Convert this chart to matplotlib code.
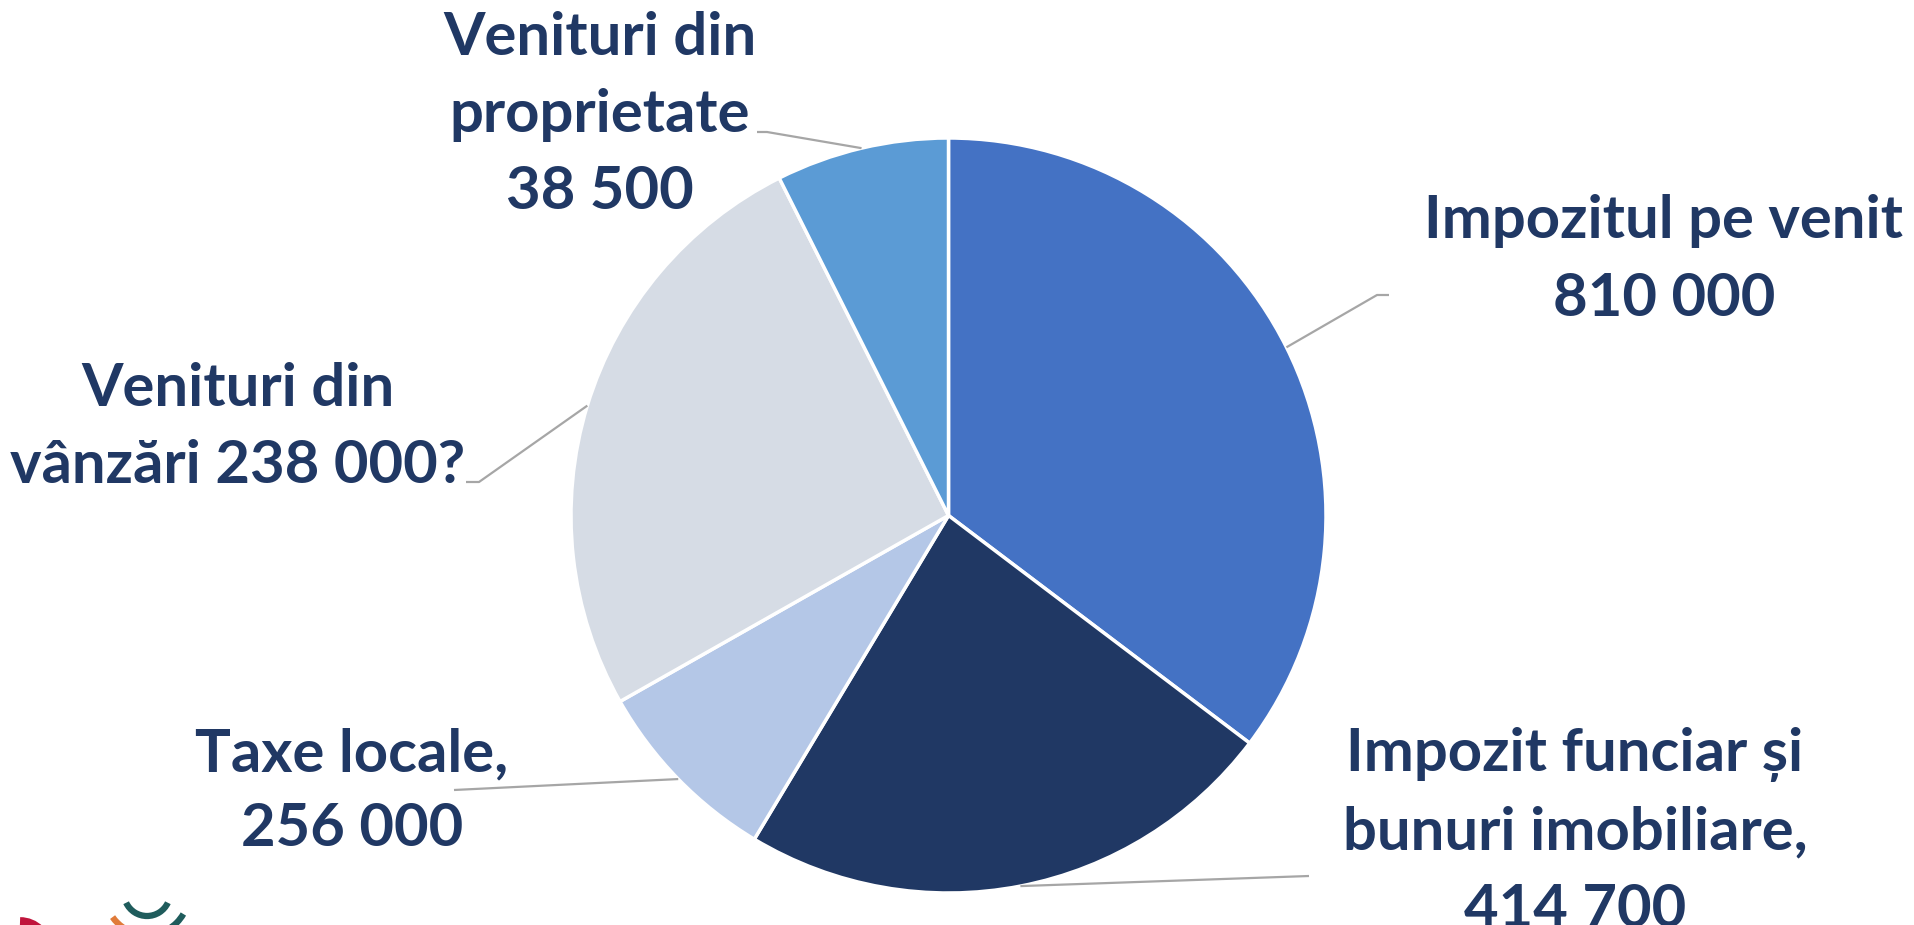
import matplotlib
matplotlib.use("Agg")
import matplotlib.pyplot as plt
import numpy as np
from matplotlib.patches import Arc

# ---- data (slice shares; label texts as shown) ----
categories = ["Impozitul pe venit", "Impozit funciar și bunuri imobiliare",
              "Taxe locale", "Venituri din vânzări", "Venituri din proprietate"]
shares = [35.3, 23.3, 8.2, 25.8, 7.4]
label_lines = [
    ["Impozitul pe venit", "810 000"],
    ["Impozit funciar și", "bunuri imobiliare,", "414 700"],
    ["Taxe locale,", "256 000"],
    ["Venituri din", "vânzări 238 000?"],
    ["Venituri din", "proprietate", "38 500"],
]
colors = ["#4472C4", "#203864", "#B4C7E7", "#D6DCE5", "#5B9BD5"]

W, H = 1914, 925
fig = plt.figure(figsize=(W / 100, H / 100), dpi=100)
ax = fig.add_axes([0, 0, 1, 1])

cx, cy, R = 948.5, H - 515.5, 377.5
wedges, _ = ax.pie(shares, colors=colors, startangle=90, counterclock=False,
                   center=(cx, cy), radius=R,
                   wedgeprops=dict(edgecolor="white", linewidth=2.5))
ax.set_xlim(0, W)
ax.set_ylim(0, H)
ax.set_aspect("equal")
ax.axis("off")

txt_color = "#203864"
font = dict(family="Lato", weight="bold", size=43, color=txt_color)

# label layout: (center x, first baseline y in px from top, line step), leader end point
layouts = [
    ((1664, 238, 78), [(1377, 295), (1389, 295)]),
    ((1575, 771, 78), [(1309, 876)]),
    ((352, 771, 75), [(454, 790)]),
    ((238, 406, 77), [(479, 482), (466, 482)]),
    ((600, 55, 77), [(767, 132), (757, 132)]),
]

for w, lines, (pos, leader) in zip(wedges, label_lines, layouts):
    mid = np.deg2rad((w.theta1 + w.theta2) / 2)
    ex, ey = cx + R * np.cos(mid), cy + R * np.sin(mid)
    xs = [ex] + [p[0] for p in leader]
    ys = [ey] + [H - p[1] for p in leader]
    ax.plot(xs, ys, color="#A6A6A6", lw=1.6, solid_capstyle="butt", zorder=1)
    x0, y0, step = pos
    for i, line in enumerate(lines):
        ax.text(x0, H - (y0 + i * step), line, ha="center", va="baseline", **font)

# partial logo in the lower-left corner (cut off by the frame)
ax.add_patch(Arc((147, H - 893), 46, 46, theta1=205, theta2=335, color="#1F5C5C", lw=4.5))
ax.add_patch(Arc((147, H - 893), 84, 84, theta1=300, theta2=330, color="#1F5C5C", lw=4.5))
ax.add_patch(Arc((147, H - 893), 84, 84, theta1=215, theta2=235, color="#E07B39", lw=4.5))
ax.add_patch(Arc((20, H - 950), 56, 56, theta1=0, theta2=90, color="#C0143C", lw=7))

fig.savefig("out.png", dpi=100)
